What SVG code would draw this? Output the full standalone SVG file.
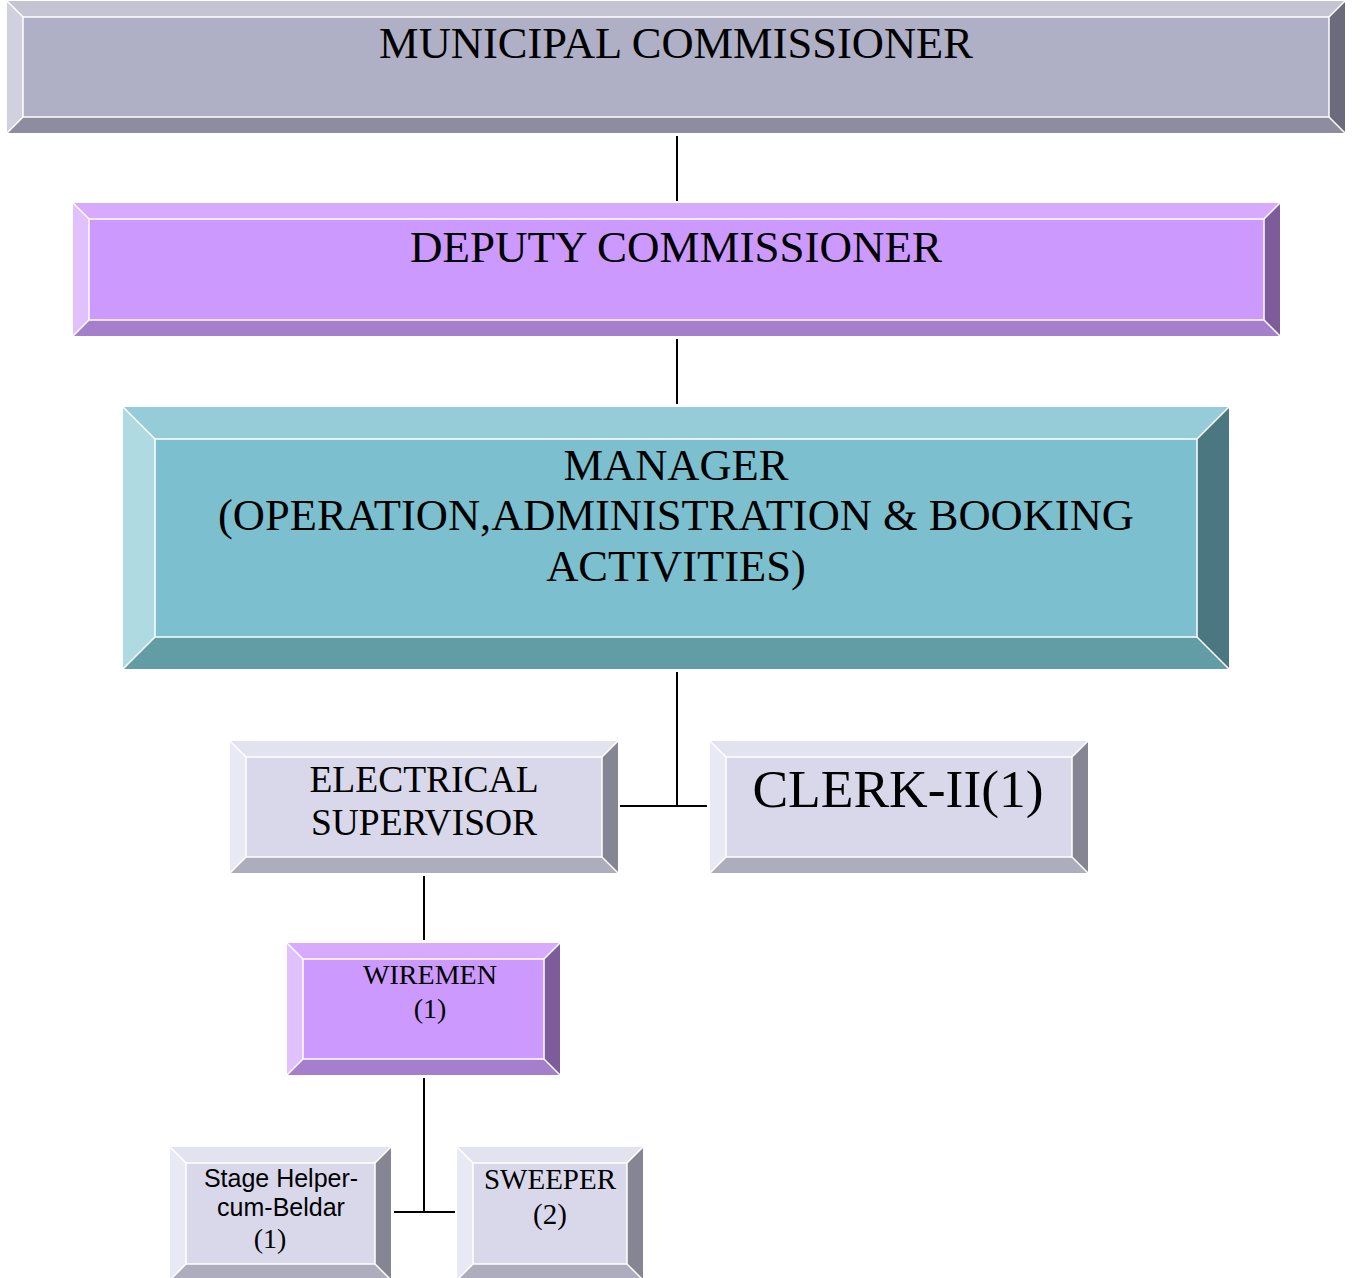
<svg xmlns="http://www.w3.org/2000/svg" width="1362" height="1278" viewBox="0 0 1362 1278">
<style>
.serif{font-family:"Liberation Serif","Times New Roman",serif;fill:#000;text-anchor:middle}
.sans{font-family:"Liberation Sans",Arial,sans-serif;fill:#000;text-anchor:middle}
.hl{fill:none;stroke:#fff;stroke-width:1.5}
.conn{stroke:#000;stroke-width:2;fill:none}
.g-t{fill:#c4c4d4}.g-l{fill:#d0d0de}.g-f{fill:#afafc5}.g-b{fill:#8e8c9f}.g-r{fill:#6c6b7c}
.p-t{fill:#d8aafe}.p-l{fill:#e0c1fe}.p-f{fill:#cc99ff}.p-b{fill:#a67fcc}.p-r{fill:#7e5c99}
.c-t{fill:#96ccd7}.c-l{fill:#afdae1}.c-f{fill:#7cc0cf}.c-b{fill:#629ca5}.c-r{fill:#4a7780}
.s-t{fill:#e3e3f0}.s-l{fill:#e9e9f5}.s-f{fill:#d8d8ea}.s-b{fill:#adadbe}.s-r{fill:#868594}
</style>
<g id="connectors">
<line class="conn" x1="677" y1="136" x2="677" y2="201"/>
<line class="conn" x1="677" y1="339" x2="677" y2="404"/>
<line class="conn" x1="677" y1="672" x2="677" y2="806"/>
<line class="conn" x1="620" y1="806" x2="707" y2="806"/>
<line class="conn" x1="424" y1="876" x2="424" y2="940"/>
<line class="conn" x1="424" y1="1078" x2="424" y2="1212"/>
<line class="conn" x1="394" y1="1212" x2="455" y2="1212"/>
</g>
<g id="municipal-commissioner">
<polygon class="g-t" points="7,1 1345,1 1329,17 23,17"/>
<polygon class="g-l" points="7,1 23,17 23,117 7,133"/>
<polygon class="g-b" points="7,133 23,117 1329,117 1345,133"/>
<polygon class="g-r" points="1345,1 1345,133 1329,117 1329,17"/>
<rect class="g-f" x="23" y="17" width="1306" height="100"/>
<rect class="hl" x="23" y="17" width="1306" height="100"/>
<path class="hl" d="M7,1L23,17M1345,1L1329,17M7,133L23,117M1345,133L1329,117"/>
<text class="serif" x="676" y="58" font-size="44.5">MUNICIPAL COMMISSIONER</text>
</g>
<g id="deputy-commissioner">
<polygon class="p-t" points="73,203 1280,203 1264,219 89,219"/>
<polygon class="p-l" points="73,203 89,219 89,320 73,336"/>
<polygon class="p-b" points="73,336 89,320 1264,320 1280,336"/>
<polygon class="p-r" points="1280,203 1280,336 1264,320 1264,219"/>
<rect class="p-f" x="89" y="219" width="1175" height="101"/>
<rect class="hl" x="89" y="219" width="1175" height="101"/>
<path class="hl" d="M73,203L89,219M1280,203L1264,219M73,336L89,320M1280,336L1264,320"/>
<text class="serif" x="676" y="262" font-size="45">DEPUTY COMMISSIONER</text>
</g>
<g id="manager">
<polygon class="c-t" points="123,407 1229,407 1197,439 155,439"/>
<polygon class="c-l" points="123,407 155,439 155,637 123,669"/>
<polygon class="c-b" points="123,669 155,637 1197,637 1229,669"/>
<polygon class="c-r" points="1229,407 1229,669 1197,637 1197,439"/>
<rect class="c-f" x="155" y="439" width="1042" height="198"/>
<rect class="hl" x="155" y="439" width="1042" height="198"/>
<path class="hl" d="M123,407L155,439M1229,407L1197,439M123,669L155,637M1229,669L1197,637"/>
<text class="serif" font-size="44.5"><tspan x="676" y="480">MANAGER</tspan><tspan x="676" y="530">(OPERATION,ADMINISTRATION &amp; BOOKING</tspan><tspan x="676" y="581">ACTIVITIES)</tspan></text>
</g>
<g id="electrical-supervisor">
<polygon class="s-t" points="230,741 618,741 602,757 246,757"/>
<polygon class="s-l" points="230,741 246,757 246,857 230,873"/>
<polygon class="s-b" points="230,873 246,857 602,857 618,873"/>
<polygon class="s-r" points="618,741 618,873 602,857 602,757"/>
<rect class="s-f" x="246" y="757" width="356" height="100"/>
<rect class="hl" x="246" y="757" width="356" height="100"/>
<path class="hl" d="M230,741L246,757M618,741L602,757M230,873L246,857M618,873L602,857"/>
<text class="serif" font-size="37.5"><tspan x="424" y="792">ELECTRICAL</tspan><tspan x="424" y="835">SUPERVISOR</tspan></text>
</g>
<g id="clerk">
<polygon class="s-t" points="710,741 1088,741 1072,757 726,757"/>
<polygon class="s-l" points="710,741 726,757 726,857 710,873"/>
<polygon class="s-b" points="710,873 726,857 1072,857 1088,873"/>
<polygon class="s-r" points="1088,741 1088,873 1072,857 1072,757"/>
<rect class="s-f" x="726" y="757" width="346" height="100"/>
<rect class="hl" x="726" y="757" width="346" height="100"/>
<path class="hl" d="M710,741L726,757M1088,741L1072,757M710,873L726,857M1088,873L1072,857"/>
<text class="serif" x="898" y="807" font-size="53.5">CLERK-II(1)</text>
</g>
<g id="wiremen">
<polygon class="p-t" points="287,943 560,943 544,959 303,959"/>
<polygon class="p-l" points="287,943 303,959 303,1059 287,1075"/>
<polygon class="p-b" points="287,1075 303,1059 544,1059 560,1075"/>
<polygon class="p-r" points="560,943 560,1075 544,1059 544,959"/>
<rect class="p-f" x="303" y="959" width="241" height="100"/>
<rect class="hl" x="303" y="959" width="241" height="100"/>
<path class="hl" d="M287,943L303,959M560,943L544,959M287,1075L303,1059M560,1075L544,1059"/>
<text class="serif" font-size="28"><tspan x="430" y="984">WIREMEN</tspan><tspan x="430" y="1018">(1)</tspan></text>
</g>
<g id="stage-helper">
<polygon class="s-t" points="170,1147 391,1147 375,1163 186,1163"/>
<polygon class="s-l" points="170,1147 186,1163 186,1264 170,1280"/>
<polygon class="s-b" points="170,1280 186,1264 375,1264 391,1280"/>
<polygon class="s-r" points="391,1147 391,1280 375,1264 375,1163"/>
<rect class="s-f" x="186" y="1163" width="189" height="101"/>
<rect class="hl" x="186" y="1163" width="189" height="101"/>
<path class="hl" d="M170,1147L186,1163M391,1147L375,1163M170,1280L186,1264M391,1280L375,1264"/>
<text class="sans" font-size="25"><tspan x="281" y="1187">Stage Helper-</tspan><tspan x="281" y="1216">cum-Beldar</tspan></text>
<text class="serif" x="270" y="1248" font-size="28">(1)</text>
</g>
<g id="sweeper">
<polygon class="s-t" points="457,1147 643,1147 627,1163 473,1163"/>
<polygon class="s-l" points="457,1147 473,1163 473,1264 457,1280"/>
<polygon class="s-b" points="457,1280 473,1264 627,1264 643,1280"/>
<polygon class="s-r" points="643,1147 643,1280 627,1264 627,1163"/>
<rect class="s-f" x="473" y="1163" width="154" height="101"/>
<rect class="hl" x="473" y="1163" width="154" height="101"/>
<path class="hl" d="M457,1147L473,1163M643,1147L627,1163M457,1280L473,1264M643,1280L627,1264"/>
<text class="serif" font-size="29"><tspan x="550" y="1189">SWEEPER</tspan><tspan x="550" y="1224">(2)</tspan></text>
</g>
</svg>
